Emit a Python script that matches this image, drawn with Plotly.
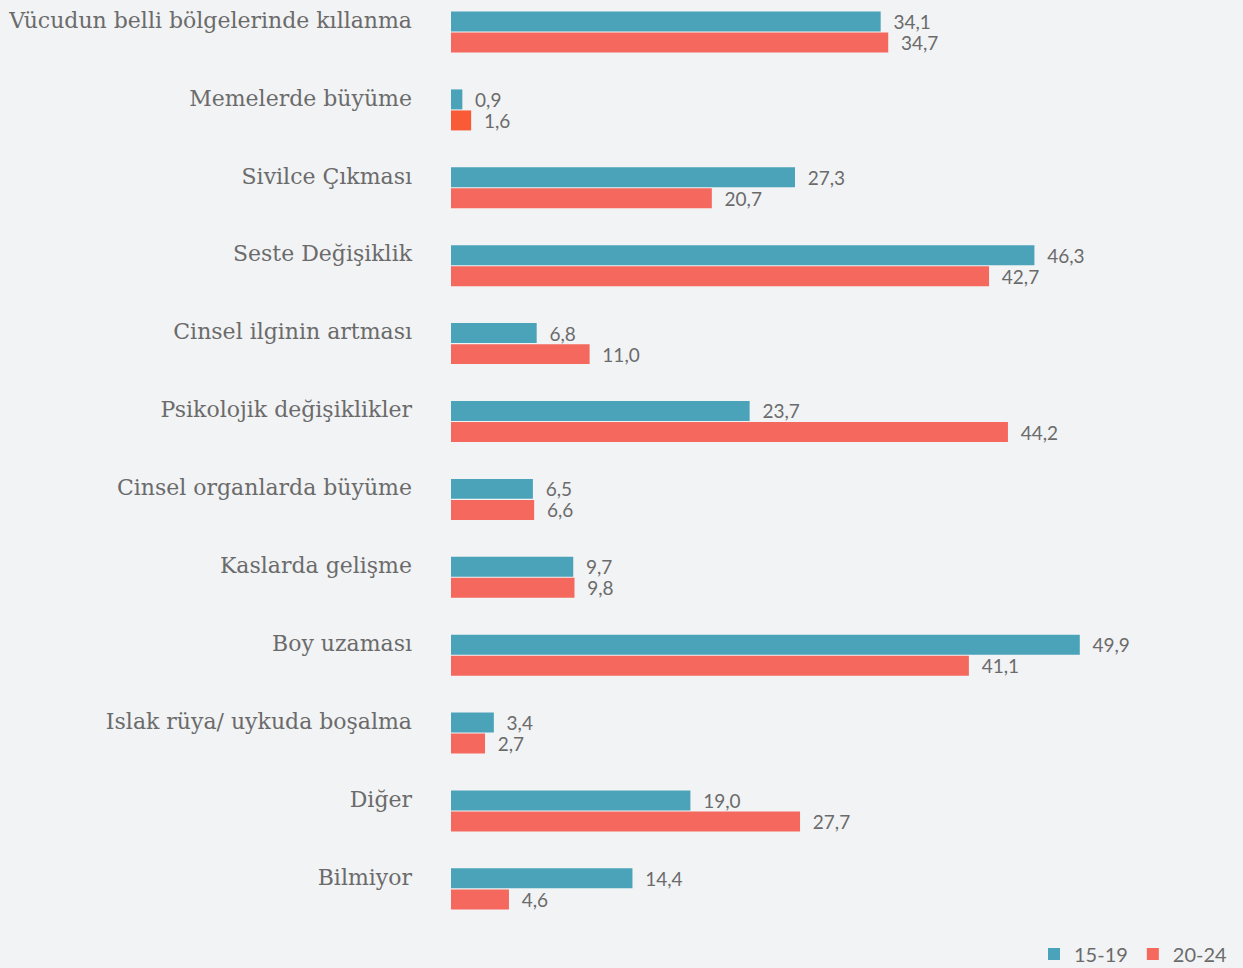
import plotly.graph_objects as go

categories = [
    "Vücudun belli bölgelerinde kıllanma",
    "Memelerde büyüme",
    "Sivilce Çıkması",
    "Seste Değişiklik",
    "Cinsel ilginin artması",
    "Psikolojik değişiklikler",
    "Cinsel organlarda büyüme",
    "Kaslarda gelişme",
    "Boy uzaması",
    "Islak rüya/ uykuda boşalma",
    "Diğer",
    "Bilmiyor",
]
series_names = ["15-19", "20-24"]
values_15_19 = [34.1, 0.9, 27.3, 46.3, 6.8, 23.7, 6.5, 9.7, 49.9, 3.4, 19.0, 14.4]
values_20_24 = [34.7, 1.6, 20.7, 42.7, 11.0, 44.2, 6.6, 9.8, 41.1, 2.7, 27.7, 4.6]

TEAL = "#4aa3b9"
RED = "#f5685d"
RED_ALT = "#f95b37"

def fmt(v):
    return "  " + f"{v:.1f}".replace(".", ",")

red_colors = [RED_ALT if c == "Memelerde büyüme" else RED for c in categories]

fig = go.Figure()
fig.add_trace(go.Bar(
    y=categories, x=values_15_19, name=series_names[0], orientation="h",
    marker=dict(color=TEAL, line=dict(width=0)),
    text=[fmt(v) for v in values_15_19], textposition="outside", cliponaxis=False,
    constraintext="none",
    textfont=dict(family="Lato", size=19, color="#6b6b6b"),
))
fig.add_trace(go.Bar(
    y=categories, x=values_20_24, name=series_names[1], orientation="h",
    marker=dict(color=red_colors, line=dict(width=0)),
    text=[fmt(v) for v in values_20_24], textposition="outside", cliponaxis=False,
    constraintext="none",
    textfont=dict(family="Lato", size=19, color="#6b6b6b"),
))

fig.update_layout(
    width=1243, height=968,
    paper_bgcolor="#f2f3f5", plot_bgcolor="#f2f3f5",
    barmode="group", bargap=0.46, bargroupgap=0.05,
    margin=dict(l=451, r=10, t=0, b=32, autoexpand=False),
    showlegend=True,
    legend=dict(orientation="h", x=1, xanchor="right", xref="paper",
                yref="container", y=0.0145, yanchor="middle",
                font=dict(family="Lato", size=20, color="#6b6b6b"),
                bgcolor="rgba(0,0,0,0)", itemwidth=30, traceorder="normal"),
    xaxis=dict(range=[0, 62.06], visible=False, fixedrange=True),
    yaxis=dict(
        categoryorder="array", categoryarray=categories,
        range=[11.605, -0.411], showgrid=False, zeroline=False, showline=False,
        ticks="", ticklabelstandoff=38, ticklabelshift=12, fixedrange=True,
        tickfont=dict(family="DejaVu Serif", size=22, color="#6b6b6b"),
    ),
    font=dict(family="Lato"),
)

fig.write_html("out.html", config={"displayModeBar": False},
               post_script="document.body.style.margin='0';")
